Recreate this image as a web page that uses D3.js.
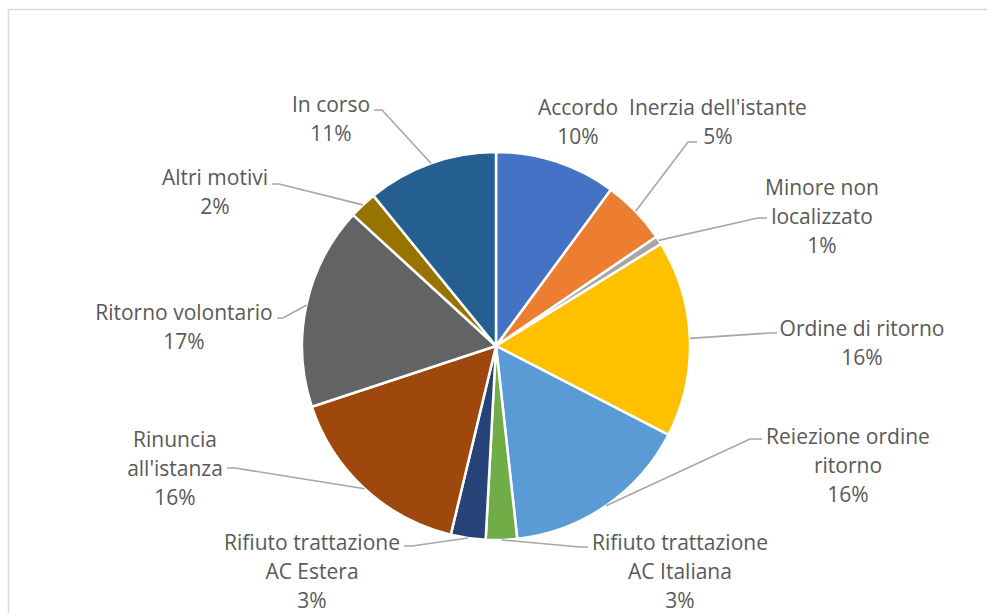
<!DOCTYPE html>
<html><head><meta charset="utf-8">
<script src="https://cdn.jsdelivr.net/npm/d3@7"></script>
<style>body{margin:0;background:#fff}svg{display:block}</style>
</head><body>
<svg id="c" width="987" height="613"></svg>
<script>
// ---- data ----
const categories = ["Accordo","Inerzia dell'istante","Minore non localizzato","Ordine di ritorno","Reiezione ordine ritorno","Rifiuto trattazione AC Italiana","Rifiuto trattazione AC Estera","Rinuncia all'istanza","Ritorno volontario","Altri motivi","In corso"];
const values = [10.1, 5.4, 0.7, 16.4, 15.7, 2.6, 2.9, 16.2, 16.9, 2.3, 10.9];
const percentLabels = ["10%","5%","1%","16%","16%","3%","3%","16%","17%","2%","11%"];
const labelLines = [["Accordo"],["Inerzia dell'istante"],["Minore non","localizzato"],["Ordine di ritorno"],["Reiezione ordine","ritorno"],["Rifiuto trattazione","AC Italiana"],["Rifiuto trattazione","AC Estera"],["Rinuncia","all'istanza"],["Ritorno volontario"],["Altri motivi"],["In corso"]];
const colors = ["#4472C4","#ED7D31","#A5A5A5","#FFC000","#5B9BD5","#70AD47","#264478","#9E480E","#636363","#997300","#255E91"];

// ---- layout (label centre x, first line y; leader elbow & end) ----
const layout = [
  {x:578, y:106, line:null},
  {x:718, y:106, line:[[688,142],[697,142]]},
  {x:822, y:186, line:[[758,218],[767,218]]},
  {x:862, y:327, line:[[770,333],[777,333]]},
  {x:848, y:435, line:[[750,439],[762,439]]},
  {x:680, y:541, line:[[580,547],[588,547]]},
  {x:312, y:541, line:[[412,546],[404,546]]},
  {x:175, y:438, line:[[235,468],[227,468]]},
  {x:184, y:311, line:[[283,318],[277,318]]},
  {x:215, y:176, line:[[279,184],[272,184]]},
  {x:331, y:103, line:[[382,110],[374,110]]}
];

const svg = d3.select("#c");
const cx = 496, cy = 346, R = 194;

svg.append("rect").attr("x",8.5).attr("y",9.5).attr("width",1000).attr("height",700)
  .attr("fill","#fff").attr("stroke","#D9D9D9").attr("stroke-width",1.5);

const pie = d3.pie().sort(null).value(d=>d);
const arcs = pie(values);
const arc = d3.arc().innerRadius(0).outerRadius(R);

const g = svg.append("g").attr("transform",`translate(${cx},${cy})`);
g.selectAll("path").data(arcs).join("path")
  .attr("d",arc).attr("fill",(d,i)=>colors[i])
  .attr("stroke","#fff").attr("stroke-width",2.5).attr("stroke-linejoin","round");

// leader lines
arcs.forEach((a,i)=>{
  const L = layout[i].line; if(!L) return;
  const m = (a.startAngle+a.endAngle)/2;
  const p0 = [cx + R*Math.sin(m), cy - R*Math.cos(m)];
  svg.append("path").attr("d", d3.line()([p0, ...L]))
    .attr("fill","none").attr("stroke","#A6A6A6").attr("stroke-width",1.6);
});

// labels
const lh = 29;
arcs.forEach((a,i)=>{
  const lines = labelLines[i].concat([percentLabels[i]]);
  const t = svg.append("text").attr("text-anchor","middle")
    .attr("font-family","'Open Sans', sans-serif").attr("font-size",21)
    .attr("fill","#595959");
  lines.forEach((s,k)=>{
    t.append("tspan").attr("x",layout[i].x).attr("y",layout[i].y + 1.5 + k*lh)
      .attr("dy","0.35em").text(s);
  });
});
</script>
</body></html>
